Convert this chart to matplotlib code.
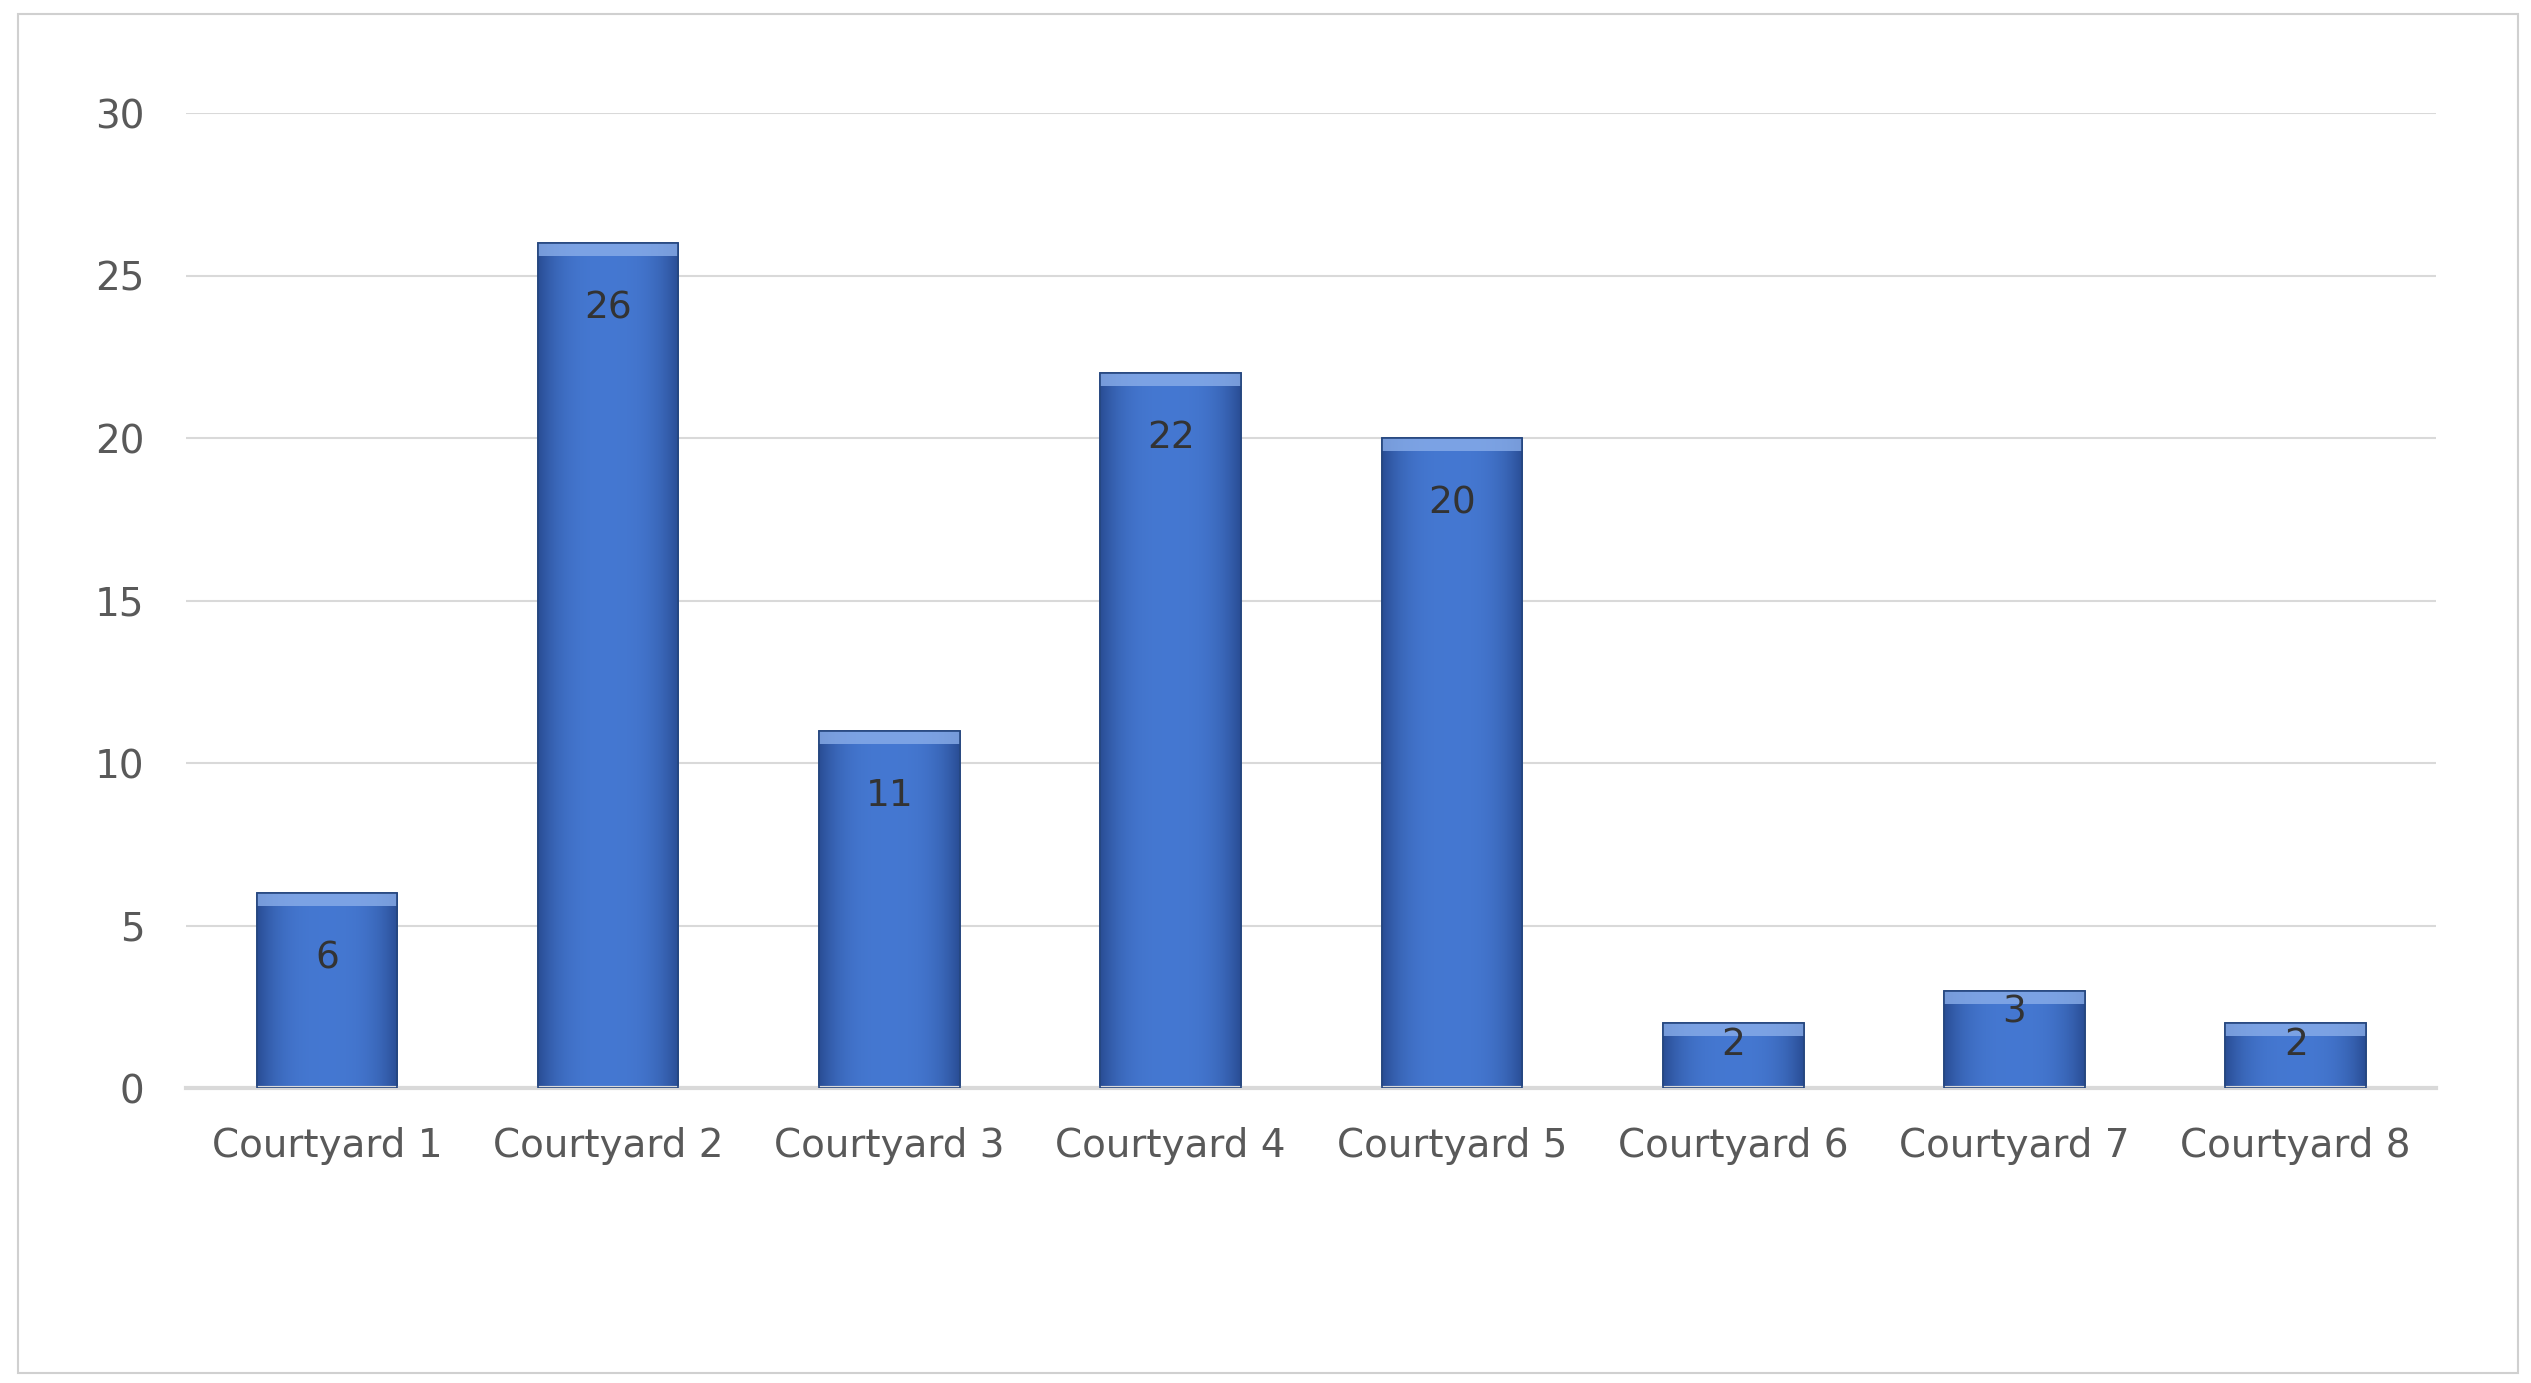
import matplotlib
matplotlib.use("Agg")
import matplotlib.pyplot as plt
import matplotlib.patches as mpatches
import numpy as np

categories = ["Courtyard 1", "Courtyard 2", "Courtyard 3", "Courtyard 4",
              "Courtyard 5", "Courtyard 6", "Courtyard 7", "Courtyard 8"]
values = [6, 26, 11, 22, 20, 2, 3, 2]
yticks = [0, 5, 10, 15, 20, 25, 30]

fig = plt.figure(figsize=(25.31, 13.83), dpi=100, facecolor="white")
fig.patches.append(mpatches.Rectangle((0.007, 0.007), 0.988, 0.983, transform=fig.transFigure,
                                      fill=False, edgecolor="#D0D0D0", linewidth=1.5))
ax = fig.add_axes([0.0736, 0.213, 0.889, 0.705])

x = np.arange(len(categories))
w = 0.5
bars = ax.bar(x, values, w, color="#3F6FCC", edgecolor="#25467F", linewidth=1.2, zorder=2)

# horizontal shading across each bar (darker edges, lighter centre)
grad = np.linspace(-1, 1, 200)
shade = 1 - np.abs(grad) ** 3
img = np.zeros((1, 200, 3))
dark = np.array([0.16, 0.30, 0.58]); light = np.array([0.27, 0.47, 0.82])
img[0] = dark + (light - dark) * shade[:, None]
for b in bars:
    x0, h = b.get_x(), b.get_height()
    im = ax.imshow(img, extent=(x0, x0 + w, 0, h), aspect="auto", zorder=2.5)
    im.set_clip_path(b)
    # bevel at top
    ax.add_patch(mpatches.Rectangle((x0, h - 0.4), w, 0.4, color="#8AAEEA", alpha=0.8,
                                    zorder=3, linewidth=0))
    ax.add_patch(mpatches.Rectangle((x0, 0), w, h, fill=False, edgecolor="#25467F",
                                    linewidth=1.2, zorder=3.5))

for xi, v in zip(x, values):
    ax.text(xi, v - 2.0 if v > 3 else v - 0.1, str(v), ha="center",
            va="center" if v > 3 else "top", fontsize=27, color="#333333", zorder=4)

ax.set_xlim(-0.5, len(categories) - 0.5)
ax.set_ylim(0, 30)
ax.set_yticks(yticks)
ax.set_xticks(x)
ax.set_xticklabels(categories, fontsize=28, color="#595959")
ax.tick_params(axis="y", labelsize=28, labelcolor="#595959", length=0, pad=30)
ax.tick_params(axis="x", length=0, pad=28)
ax.yaxis.grid(True, color="#D9D9D9", linewidth=1.5, zorder=0)
ax.set_axisbelow(True)
for s in ["top", "right", "left"]:
    ax.spines[s].set_visible(False)
ax.spines["bottom"].set_color("#D9D9D9")
ax.spines["bottom"].set_linewidth(3)

fig.savefig("out.png", dpi=100, facecolor="white")
